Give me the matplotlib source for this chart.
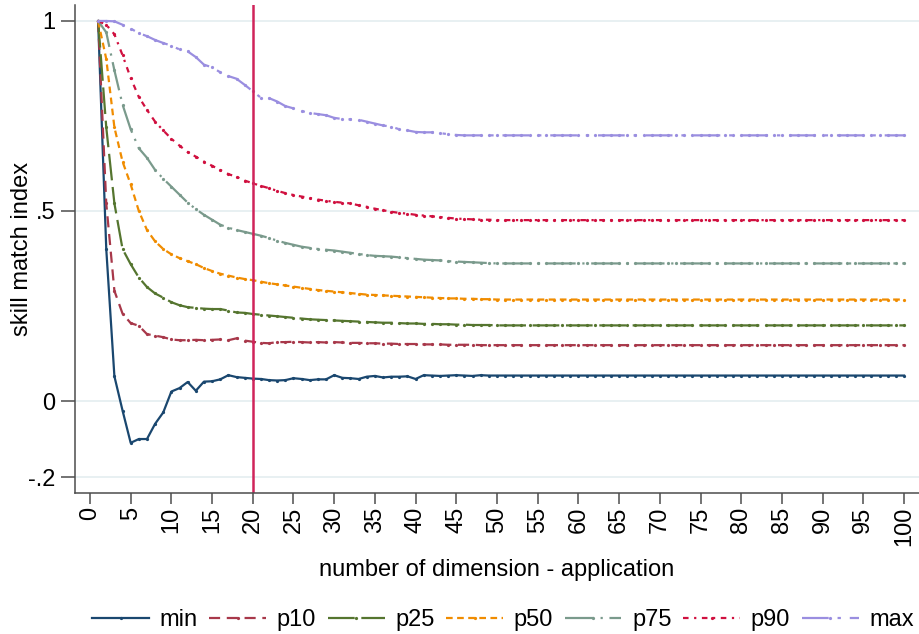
import matplotlib
matplotlib.use("Agg")
import matplotlib.pyplot as plt
import numpy as np

plt.rcParams['font.family'] = ['Liberation Sans', 'DejaVu Sans']
plt.rcParams['font.size'] = 17

# number of dimensions, 1..100
dims = np.arange(1, 101)

s_min = [1.000, 0.400, 0.065, -0.025, -0.110, -0.100, -0.100, -0.060, -0.030, 0.025,
         0.034, 0.050, 0.027, 0.051, 0.052, 0.057, 0.068, 0.063, 0.061, 0.059,
         0.058, 0.055, 0.054, 0.055, 0.060, 0.058, 0.055, 0.057, 0.057, 0.068,
         0.061, 0.060, 0.058, 0.064, 0.066, 0.062, 0.064, 0.064, 0.065, 0.058,
         0.068, 0.067, 0.066, 0.067, 0.068, 0.067, 0.066, 0.068, 0.067, 0.067,
         0.067, 0.067, 0.067, 0.067, 0.067, 0.067, 0.067, 0.067, 0.067, 0.067,
         0.067, 0.067, 0.067, 0.067, 0.067, 0.067, 0.067, 0.067, 0.067, 0.067,
         0.067, 0.067, 0.067, 0.067, 0.067, 0.067, 0.067, 0.067, 0.067, 0.067,
         0.067, 0.067, 0.067, 0.067, 0.067, 0.067, 0.067, 0.067, 0.067, 0.067,
         0.067, 0.067, 0.067, 0.067, 0.067, 0.067, 0.067, 0.067, 0.067, 0.067]

s_p10 = [1.000, 0.520, 0.290, 0.230, 0.205, 0.198, 0.176, 0.172, 0.168, 0.162,
         0.160, 0.160, 0.161, 0.160, 0.161, 0.162, 0.160, 0.165, 0.159, 0.156,
         0.153, 0.152, 0.155, 0.155, 0.156, 0.155, 0.154, 0.155, 0.154, 0.155,
         0.154, 0.153, 0.153, 0.152, 0.152, 0.151, 0.151, 0.150, 0.150, 0.150,
         0.149, 0.149, 0.149, 0.148, 0.148, 0.148, 0.148, 0.147, 0.147, 0.147,
         0.147, 0.147, 0.147, 0.147, 0.147, 0.147, 0.147, 0.147, 0.147, 0.147,
         0.147, 0.147, 0.147, 0.147, 0.147, 0.147, 0.147, 0.147, 0.147, 0.147,
         0.147, 0.147, 0.147, 0.147, 0.147, 0.147, 0.147, 0.147, 0.147, 0.147,
         0.147, 0.147, 0.147, 0.147, 0.147, 0.147, 0.147, 0.147, 0.147, 0.147,
         0.147, 0.147, 0.147, 0.147, 0.147, 0.147, 0.147, 0.147, 0.147, 0.147]

s_p25 = [1.000, 0.720, 0.520, 0.400, 0.360, 0.325, 0.300, 0.283, 0.272, 0.260,
         0.252, 0.247, 0.245, 0.243, 0.242, 0.242, 0.238, 0.233, 0.232, 0.229,
         0.227, 0.225, 0.223, 0.221, 0.219, 0.217, 0.215, 0.214, 0.213, 0.212,
         0.211, 0.210, 0.209, 0.208, 0.207, 0.206, 0.206, 0.205, 0.204, 0.204,
         0.203, 0.203, 0.202, 0.202, 0.201, 0.201, 0.200, 0.200, 0.200, 0.199,
         0.199, 0.199, 0.199, 0.199, 0.199, 0.199, 0.199, 0.199, 0.199, 0.199,
         0.199, 0.199, 0.199, 0.199, 0.199, 0.199, 0.199, 0.199, 0.199, 0.199,
         0.199, 0.199, 0.199, 0.199, 0.199, 0.199, 0.199, 0.199, 0.199, 0.199,
         0.199, 0.199, 0.199, 0.199, 0.199, 0.199, 0.199, 0.199, 0.199, 0.199,
         0.199, 0.199, 0.199, 0.199, 0.199, 0.199, 0.199, 0.199, 0.199, 0.199]

s_p50 = [1.000, 0.900, 0.720, 0.630, 0.570, 0.500, 0.450, 0.420, 0.400, 0.386,
         0.376, 0.368, 0.360, 0.350, 0.342, 0.335, 0.330, 0.325, 0.321, 0.318,
         0.314, 0.310, 0.307, 0.304, 0.301, 0.298, 0.295, 0.292, 0.290, 0.288,
         0.286, 0.284, 0.282, 0.280, 0.279, 0.278, 0.277, 0.276, 0.275, 0.274,
         0.273, 0.272, 0.271, 0.270, 0.270, 0.269, 0.269, 0.268, 0.268, 0.267,
         0.267, 0.267, 0.267, 0.267, 0.267, 0.267, 0.267, 0.267, 0.267, 0.267,
         0.267, 0.267, 0.267, 0.267, 0.267, 0.267, 0.267, 0.267, 0.267, 0.267,
         0.267, 0.267, 0.267, 0.267, 0.267, 0.267, 0.267, 0.267, 0.267, 0.267,
         0.267, 0.267, 0.267, 0.267, 0.267, 0.267, 0.267, 0.267, 0.267, 0.267,
         0.267, 0.267, 0.267, 0.267, 0.267, 0.267, 0.267, 0.267, 0.267, 0.267]

s_p75 = [1.000, 0.970, 0.870, 0.780, 0.715, 0.665, 0.640, 0.608, 0.585, 0.564,
         0.543, 0.522, 0.505, 0.490, 0.477, 0.464, 0.456, 0.450, 0.445, 0.440,
         0.435, 0.429, 0.422, 0.416, 0.411, 0.406, 0.403, 0.400, 0.398, 0.396,
         0.393, 0.390, 0.387, 0.384, 0.382, 0.381, 0.380, 0.378, 0.376, 0.374,
         0.372, 0.371, 0.370, 0.368, 0.367, 0.366, 0.365, 0.364, 0.363, 0.362,
         0.362, 0.362, 0.362, 0.362, 0.362, 0.362, 0.362, 0.362, 0.362, 0.362,
         0.362, 0.362, 0.362, 0.362, 0.362, 0.362, 0.362, 0.362, 0.362, 0.362,
         0.362, 0.362, 0.362, 0.362, 0.362, 0.362, 0.362, 0.362, 0.362, 0.362,
         0.362, 0.362, 0.362, 0.362, 0.362, 0.362, 0.362, 0.362, 0.362, 0.362,
         0.362, 0.362, 0.362, 0.362, 0.362, 0.362, 0.362, 0.362, 0.362, 0.362]

s_p90 = [1.000, 0.990, 0.965, 0.910, 0.850, 0.800, 0.766, 0.735, 0.712, 0.690,
         0.672, 0.655, 0.643, 0.630, 0.619, 0.608, 0.597, 0.590, 0.580, 0.573,
         0.566, 0.560, 0.553, 0.547, 0.542, 0.538, 0.534, 0.530, 0.527, 0.524,
         0.522, 0.520, 0.515, 0.511, 0.506, 0.502, 0.498, 0.495, 0.493, 0.490,
         0.488, 0.486, 0.484, 0.482, 0.480, 0.479, 0.478, 0.477, 0.477, 0.476,
         0.476, 0.476, 0.476, 0.476, 0.476, 0.476, 0.476, 0.476, 0.476, 0.476,
         0.476, 0.476, 0.476, 0.476, 0.476, 0.476, 0.476, 0.476, 0.476, 0.476,
         0.476, 0.476, 0.476, 0.476, 0.476, 0.476, 0.476, 0.476, 0.476, 0.476,
         0.476, 0.476, 0.476, 0.476, 0.476, 0.476, 0.476, 0.476, 0.476, 0.476,
         0.476, 0.476, 0.476, 0.476, 0.476, 0.476, 0.476, 0.476, 0.476, 0.476]

s_max = [1.000, 1.000, 0.999, 0.990, 0.980, 0.968, 0.960, 0.950, 0.942, 0.935,
         0.925, 0.920, 0.905, 0.885, 0.878, 0.865, 0.855, 0.848, 0.832, 0.815,
         0.798, 0.797, 0.788, 0.776, 0.770, 0.763, 0.758, 0.755, 0.752, 0.745,
         0.742, 0.741, 0.740, 0.735, 0.730, 0.725, 0.722, 0.715, 0.712, 0.708,
         0.707, 0.707, 0.705, 0.702, 0.700, 0.699, 0.699, 0.699, 0.699, 0.699,
         0.699, 0.699, 0.699, 0.699, 0.699, 0.699, 0.699, 0.699, 0.699, 0.699,
         0.699, 0.699, 0.699, 0.699, 0.699, 0.699, 0.699, 0.699, 0.699, 0.699,
         0.699, 0.699, 0.699, 0.699, 0.699, 0.699, 0.699, 0.699, 0.699, 0.699,
         0.699, 0.699, 0.699, 0.699, 0.699, 0.699, 0.699, 0.699, 0.699, 0.699,
         0.699, 0.699, 0.699, 0.699, 0.699, 0.699, 0.699, 0.699, 0.699, 0.699]

labels = ['min', 'p10', 'p25', 'p50', 'p75', 'p90', 'max']
series = [s_min, s_p10, s_p25, s_p50, s_p75, s_p90, s_max]
colors = ['#1a476f', '#a8384a', '#55752f', '#f08c00', '#7a9a8c', '#d0103f', '#9a8ee0']
styles = ['-', (0, (5, 3)), (0, (12, 3)), (0, (3, 2)), (0, (13, 3, 1, 3)),
          (0, (2.5, 2.5, 1, 2.5)), (0, (12, 4, 1.5, 4))]
cutoff = 20

fig = plt.figure(figsize=(9.19, 6.34), dpi=100)
ax = fig.add_axes([75 / 919, 141 / 634, 844 / 919, 488 / 634])

for vals, lab, col, ls in zip(series, labels, colors, styles):
    ax.plot(dims, vals, color=col, linestyle=ls, lw=1.6, marker='o',
            markersize=1.3, label=lab)

ax.axvline(cutoff, color='#d0245a', lw=1.8)

ax.set_xlim(-1.84, 101.84)
ax.set_ylim(-0.242, 1.042)

yt = [-0.2, 0, 0.5, 1]
ax.set_yticks(yt)
ax.set_yticklabels(['-.2', '0', '.5', '1'])
ax.set_xticks(np.arange(0, 101, 5))
ax.tick_params(axis='x', labelrotation=90, length=8, width=1.1, pad=2,
               color='#4d4d4d')
ax.tick_params(axis='y', length=10, width=1.1, pad=4, color='#4d4d4d')
ax.grid(axis='y', color='#e4eef0', lw=1.2)
ax.set_axisbelow(True)

for s in ['top', 'right']:
    ax.spines[s].set_visible(False)
for s in ['left', 'bottom']:
    ax.spines[s].set_color('#4d4d4d')
    ax.spines[s].set_linewidth(1.1)

ax.set_xlabel('number of dimension - application')
ax.set_ylabel('skill match index')
ax.xaxis.set_label_coords(0.5, -0.135)
ax.yaxis.set_label_coords(-0.05, 0.5)

fig.legend(loc='center', bbox_to_anchor=(503 / 919, 1 - 620 / 634), ncol=7,
           frameon=False, numpoints=1, handlelength=2.4, handletextpad=0.45,
           columnspacing=0.5, borderpad=0, fontsize=17)

fig.savefig('out.png', dpi=100, facecolor='white')
